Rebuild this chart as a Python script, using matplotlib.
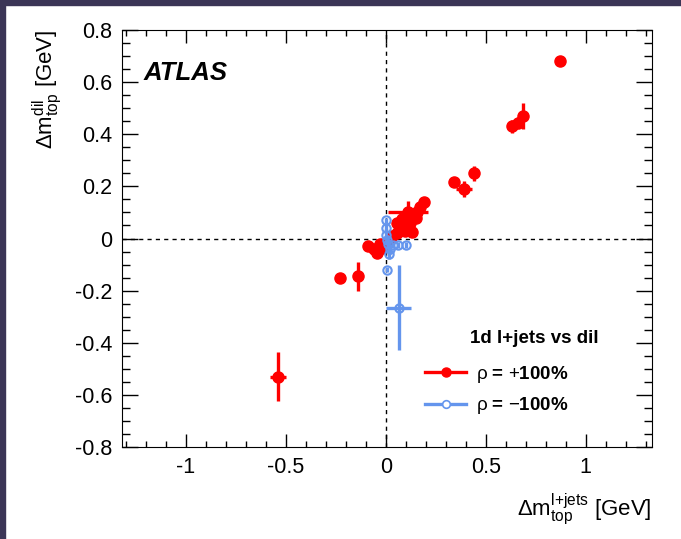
import matplotlib
matplotlib.use("Agg")
import matplotlib.pyplot as plt
from matplotlib.lines import Line2D
from matplotlib.patches import Rectangle
from matplotlib.ticker import FixedLocator, FixedFormatter, MultipleLocator

plt.rcParams["font.family"] = ["Liberation Sans", "DejaVu Sans"]
plt.rcParams["mathtext.fontset"] = "custom"
plt.rcParams["mathtext.rm"] = "Liberation Sans"
plt.rcParams["mathtext.it"] = "Liberation Sans:italic"
plt.rcParams["mathtext.bf"] = "Liberation Sans:bold"

# rho = +100% (red, filled)
pos_x = [0.87, 0.685, 0.66, 0.63, 0.44, 0.39, 0.34, 0.19, 0.17, 0.155, 0.11, 0.12,
         0.13, 0.095, 0.055, 0.055, 0.02, -0.02, -0.045, -0.09, -0.14, -0.23, -0.54,
         0.07, 0.08, 0.15, 0.03, -0.06, -0.03, 0.1]
pos_y = [0.68, 0.47, 0.445, 0.43, 0.25, 0.19, 0.215, 0.14, 0.12, 0.10, 0.10, 0.06,
         0.025, 0.03, 0.06, 0.02, 0.0, -0.035, -0.055, -0.03, -0.145, -0.15, -0.53,
         0.04, 0.075, 0.08, 0.01, -0.04, -0.02, 0.045]
pos_xerr = [0.01, 0.01, 0.01, 0.01, 0.01, 0.04, 0.01, 0.01, 0.01, 0.01, 0.10, 0.01,
            0.01, 0.01, 0.01, 0.01, 0.01, 0.01, 0.01, 0.01, 0.01, 0.01, 0.04,
            0.01, 0.01, 0.01, 0.01, 0.01, 0.01, 0.01]
pos_yerr = [0.015, 0.05, 0.02, 0.025, 0.03, 0.03, 0.01, 0.01, 0.01, 0.01, 0.045, 0.01,
            0.01, 0.01, 0.01, 0.01, 0.01, 0.01, 0.01, 0.01, 0.055, 0.01, 0.093,
            0.01, 0.01, 0.01, 0.01, 0.01, 0.01, 0.01]

# rho = -100% (blue, open)
neg_x = [0.0, 0.003, 0.0, 0.005, 0.01, 0.02, 0.015, 0.006, 0.035, 0.06, 0.1, 0.065]
neg_y = [0.07, 0.04, 0.015, -0.005, -0.02, -0.04, -0.06, -0.12, -0.025, -0.025, -0.025, -0.265]
neg_xerr = [0.005, 0.005, 0.005, 0.005, 0.005, 0.005, 0.005, 0.005, 0.005, 0.005, 0.005, 0.063]
neg_yerr = [0.01, 0.02, 0.02, 0.02, 0.02, 0.02, 0.02, 0.01, 0.01, 0.01, 0.01, 0.163]

x_ticks = [-1, -0.5, 0, 0.5, 1]
x_labels = ["-1", "-0.5", "0", "0.5", "1"]
y_ticks = [-0.8, -0.6, -0.4, -0.2, 0, 0.2, 0.4, 0.6, 0.8]
y_labels = ["-0.8", "-0.6", "-0.4", "-0.2", "0", "0.2", "0.4", "0.6", "0.8"]

red = "#ff0000"
blue = "#6495ed"

fig = plt.figure(figsize=(6.81, 5.39), dpi=100)
ax = fig.add_axes([0.179, 0.1707, 0.778, 0.7736])

# dark frame at top and left of the screenshot
fig.add_artist(Rectangle((0, 1 - 5 / 539), 1, 5 / 539, transform=fig.transFigure,
                         color="#3b3556", zorder=10))
fig.add_artist(Rectangle((0, 0), 5 / 681, 1, transform=fig.transFigure,
                         color="#3b3556", zorder=10))

ax.axhline(0, color="black", lw=1, ls=(0, (3, 3)), zorder=1)
ax.axvline(0, color="black", lw=1, ls=(0, (3, 3)), zorder=1)

ax.errorbar(pos_x, pos_y, xerr=pos_xerr, yerr=pos_yerr, fmt="o", color=red,
            ms=8, elinewidth=2.4, capsize=0, zorder=3)
ax.errorbar(neg_x, neg_y, xerr=neg_xerr, yerr=neg_yerr, fmt="o", color=blue,
            mfc="none", mec=blue, mew=1.5, ms=6, elinewidth=2.4, capsize=0, zorder=4)

ax.set_xlim(-1.32, 1.33)
ax.set_ylim(-0.8, 0.8)
ax.xaxis.set_major_locator(FixedLocator(x_ticks))
ax.xaxis.set_major_formatter(FixedFormatter(x_labels))
ax.yaxis.set_major_locator(FixedLocator(y_ticks))
ax.yaxis.set_major_formatter(FixedFormatter(y_labels))
ax.xaxis.set_minor_locator(MultipleLocator(0.1))
ax.yaxis.set_minor_locator(MultipleLocator(0.05))
ax.tick_params(which="both", direction="in", top=True, right=True, labelsize=15.5, width=1)
ax.tick_params(axis="x", which="major", length=9.5, pad=7)
ax.tick_params(axis="x", which="minor", length=4.5)
ax.tick_params(axis="y", which="major", length=11.5, pad=7)
ax.tick_params(axis="y", which="minor", length=6)

ax.set_xlabel(r"$\Delta\mathrm{m}_{\mathrm{top}}^{\mathrm{l{+}jets}}$ [GeV]", fontsize=16,
              loc="right", labelpad=10)
ax.set_ylabel(r"$\Delta\mathrm{m}_{\mathrm{top}}^{\mathrm{dil}}$ [GeV]", fontsize=16,
              loc="top", labelpad=8)

ax.text(0.04, 0.897, "ATLAS", transform=ax.transAxes, fontsize=18.5,
        fontweight="bold", fontstyle="italic", va="center")

ax.text(0.657, 0.261, "1d l+jets vs dil", transform=ax.transAxes, fontsize=13.5,
        fontweight="bold", va="center")
handles = [Line2D([], [], color=red, lw=2.4, marker="o", ms=6.5),
           Line2D([], [], color=blue, lw=2.4, marker="o", ms=5.5, mfc="white", mew=1.2)]
labels = [r"$\mathrm{\rho}$ = $+$100%", r"$\mathrm{\rho}$ = $-$100%"]
ax.legend(handles, labels, loc="upper left", bbox_to_anchor=(0.54, 0.24),
          frameon=False, prop={"size": 13.5, "weight": "bold"},
          handlelength=2.2, handletextpad=0.55, labelspacing=0.55)

fig.savefig("out.png", dpi=100, facecolor="white")
